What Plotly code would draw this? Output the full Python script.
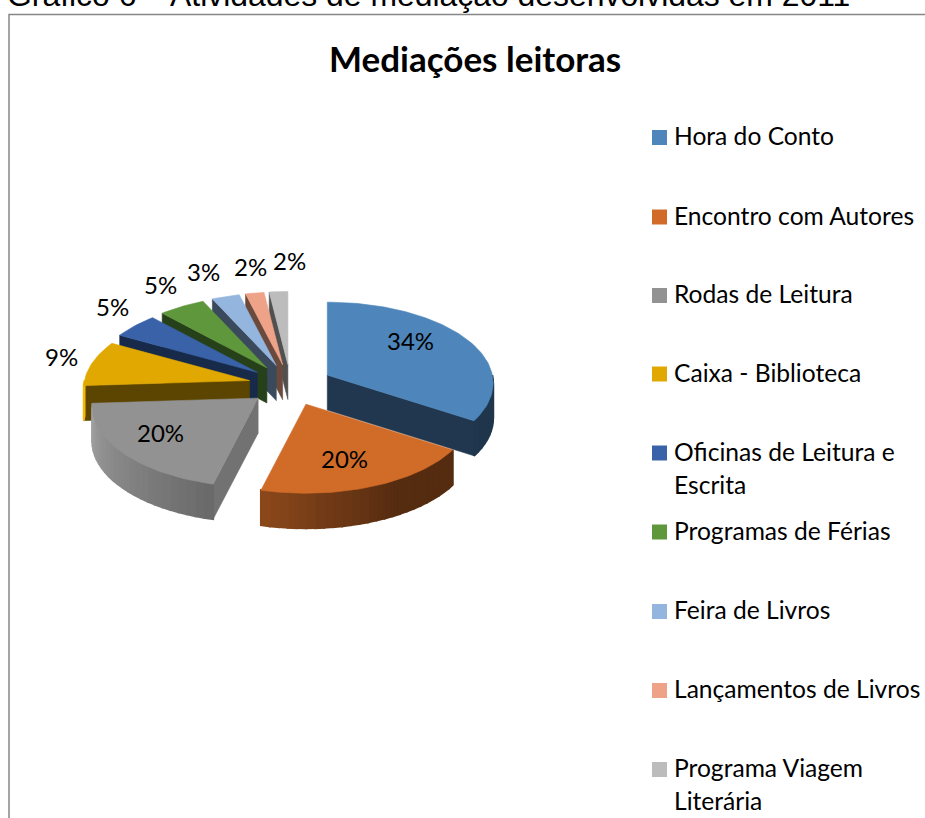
"""
Exploded 3D-look pie chart: Mediações leitoras.
"""
import numpy as np
import plotly.graph_objects as go

CAPTION = "Gráfico 6 – Atividades de mediação desenvolvidas em 2011"
TITLE = "Mediações leitoras"

CATEGORIES = [
    "Hora do Conto",
    "Encontro com Autores",
    "Rodas de Leitura",
    "Caixa - Biblioteca",
    "Oficinas de Leitura e<br>Escrita",
    "Programas de Férias",
    "Feira de Livros",
    "Lançamentos de Livros",
    "Programa Viagem<br>Literária",
]
VALUES = [34, 20, 20, 9, 5, 5, 3, 2, 2]

COLORS = ["#4E86BB", "#D06C28", "#929292", "#E0A800", "#3A62A8",
          "#5F973D", "#93B5DE", "#EEA388", "#BCBCBC"]
SIDE_COLORS = ["#20374F", "#552B0F", "#727272", "#5C4500", "#172A4A",
               "#26401A", "#3A4A5C", "#6B4A3E", "#505050"]

# back to front
DRAW_ORDER = [8, 7, 6, 5, 4, 3, 0, 2, 1]

LABEL_POS = [(410, 340), (344, 458), (160, 432), (61, 356), (112, 306),
             (160, 284), (203, 271), (250, 266), (289, 260)]
LEGEND_Y = [135.5, 215, 293.5, 372, 451, 530, 609.5, 688.5, 767.5]
KEY_Y = [137.5, 217, 295.5, 374, 453, 532, 611.5, 690.5, 769.5]

CX, CY = 290.5, 385
RX, RY = 165, 81
EXPLODE_X, EXPLODE_Y = 42, 20.6
DEPTH = 35
PERSPECTIVE = 0.1
FONT = "Lato"


def rim(theta, apex):
    """Screen position of a point on a slice's rim, theta clockwise from north."""
    t = np.radians(theta)
    scale = 1 - PERSPECTIVE * np.cos(t)
    return apex[0] + RX * scale * np.sin(t), apex[1] - RY * scale * np.cos(t)


def wall_shade(theta):
    return np.interp(theta, [90, 150, 194, 194.01, 266], [0.41, 0.41, 0.67, 0.72, 1.1])


def scaled(color, factor):
    rgb = [int(color[i:i + 2], 16) for i in (1, 3, 5)]
    return "rgb({},{},{})".format(*[min(255, int(c * factor)) for c in rgb])


def polygon(xs, ys, color, width=0.6):
    return go.Scatter(
        x=list(xs) + [xs[0]],
        y=list(ys) + [ys[0]],
        mode="lines",
        fill="toself",
        fillcolor=color,
        line=dict(color=color, width=width),
        hoverinfo="skip",
        showlegend=False,
    )


fig = go.Figure()

edges = np.cumsum([0] + VALUES) / sum(VALUES) * 360

for i in DRAW_ORDER:
    start, end = edges[i], edges[i + 1]
    mid = np.radians((start + end) / 2)
    apex = (CX + EXPLODE_X * np.sin(mid), CY - EXPLODE_Y * np.cos(mid))

    # radial faces, only those turned toward the viewer
    for theta, normal in ((start, start - 90), (end, end + 90)):
        if np.cos(np.radians(normal)) < 0:
            px, py = rim(theta, apex)
            fig.add_trace(polygon(
                [apex[0], px, px, apex[0]],
                [apex[1], py, py + DEPTH, apex[1] + DEPTH],
                SIDE_COLORS[i],
            ))

    # outer wall in short pieces so the shading can sweep along it
    lo, hi = max(start, 90), min(end, 270)
    if hi > lo:
        steps = np.linspace(lo, hi, int((hi - lo) / 3) + 2)
        for a, b in zip(steps[:-1], steps[1:]):
            ax, ay = rim(a, apex)
            bx, by = rim(b, apex)
            fig.add_trace(polygon(
                [ax, bx, bx, ax],
                [ay, by, by + DEPTH, ay + DEPTH],
                scaled(COLORS[i], wall_shade((a + b) / 2)),
                width=2,
            ))

    # top face
    arc = np.linspace(start, end, int((end - start) / 1.5) + 2)
    rx, ry = rim(arc, apex)
    fig.add_trace(polygon([apex[0]] + list(rx), [apex[1]] + list(ry), COLORS[i]))

# legend keys
fig.add_trace(go.Scatter(
    x=[659.5] * len(CATEGORIES),
    y=KEY_Y,
    mode="markers",
    marker=dict(symbol="square", size=15, color=COLORS, line=dict(width=0)),
    hoverinfo="skip",
    showlegend=False,
))

# chart frame, open on the right and at the bottom
fig.add_shape(type="path", path="M 9 818 L 9 14.5 L 925 14.5",
              line=dict(color="#868686", width=1.5), layer="below")

for value, (x, y) in zip(VALUES, LABEL_POS):
    fig.add_annotation(x=x, y=y, text=f"{value}%", showarrow=False,
                       font=dict(family=FONT, size=24, color="#000000"))

for label, y in zip(CATEGORIES, LEGEND_Y):
    for n, line in enumerate(label.split("<br>")):
        fig.add_annotation(x=672, y=y + n * 33, text=line, showarrow=False,
                           xanchor="left",
                           font=dict(family=FONT, size=24.6, color="#000000"))

fig.add_annotation(x=475, y=58, text=f"<b>{TITLE}</b>", showarrow=False,
                   font=dict(family=FONT, size=35, color="#000000"))

fig.add_annotation(xref="paper", yref="paper", x=5 / 925, y=1 - 15 / 818,
                   xanchor="left", yanchor="bottom", text=CAPTION, showarrow=False,
                   font=dict(family="Liberation Sans", size=31.9, color="#000000"))

fig.update_layout(
    width=925,
    height=818,
    margin=dict(l=0, r=0, t=0, b=0),
    plot_bgcolor="#FFFFFF",
    paper_bgcolor="#FFFFFF",
    xaxis=dict(range=[0, 925], visible=False),
    yaxis=dict(range=[818, 0], visible=False),
    showlegend=False,
)

fig.write_html(
    "out.html",
    config={"displayModeBar": False},
    post_script="document.body.style.margin='0';document.body.style.overflow='hidden';",
)
